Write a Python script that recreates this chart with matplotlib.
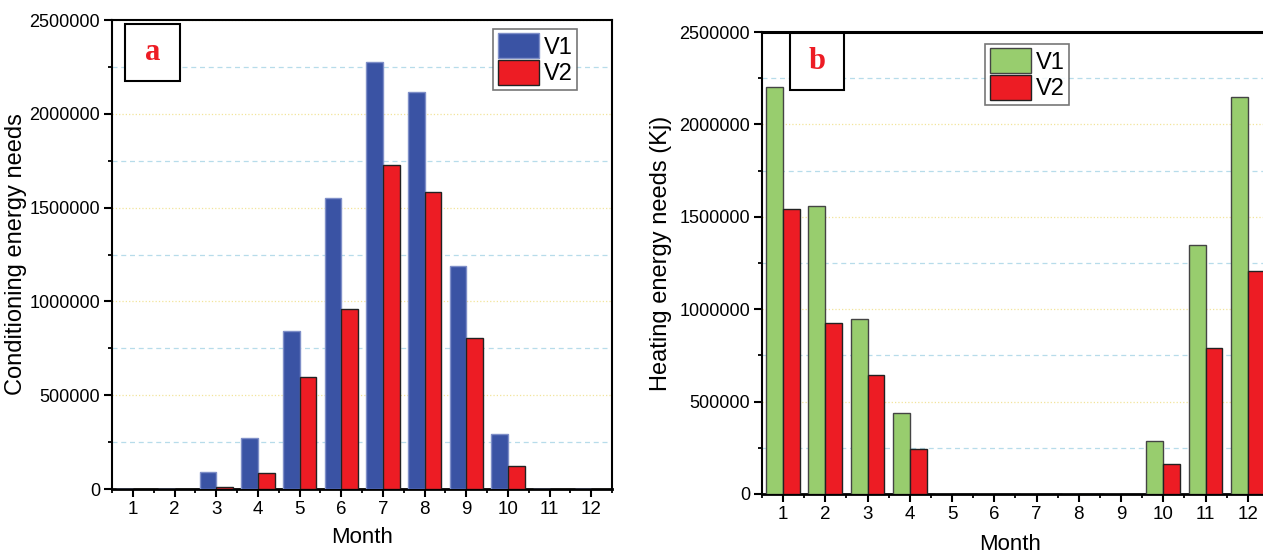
import numpy as np
import matplotlib.pyplot as plt
from matplotlib.ticker import MultipleLocator, StrMethodFormatter
from matplotlib.patches import Patch, Rectangle

plt.rcParams['font.family'] = ['Liberation Sans', 'DejaVu Sans']

months = np.arange(1, 13)
cool_v1 = [0, 0, 90000, 274000, 845000, 1553000, 2274000, 2117000, 1191000, 294000, 0, 0]
cool_v2 = [0, 0, 12000, 87000, 598000, 960000, 1727000, 1581000, 803000, 123000, 0, 0]
heat_v1 = [2201000, 1558000, 946000, 441000, 0, 0, 0, 0, 0, 289000, 1349000, 2148000]
heat_v2 = [1540000, 928000, 645000, 246000, 0, 0, 0, 0, 0, 165000, 789000, 1208000]

blue = '#3a53a4'
red = '#ed1c24'
green = '#98cd6e'

fig = plt.figure(figsize=(12.63, 5.53), dpi=100)
ax1 = fig.add_axes([0.0887, 0.1157, 0.3959, 0.848])
ax2 = fig.add_axes([0.6033, 0.1067, 0.4014, 0.8354])


def setup(ax, v1, v2, c1, e1, panel, ylabel, leg_loc, box, top_only=False):
    ax.bar(months, v1, width=-0.4, align='edge', color=c1, edgecolor=e1, linewidth=1, zorder=3)
    ax.bar(months, v2, width=0.4, align='edge', color=red, edgecolor='#222222', linewidth=1, zorder=3)
    ax.set_xlim(0.5, 12.5)
    ax.set_ylim(0, 2500000)
    ax.xaxis.set_major_locator(MultipleLocator(1))
    ax.xaxis.set_minor_locator(MultipleLocator(0.5))
    ax.yaxis.set_major_locator(MultipleLocator(500000))
    ax.yaxis.set_minor_locator(MultipleLocator(250000))
    ax.yaxis.set_major_formatter(StrMethodFormatter('{x:.0f}'))
    ax.grid(which='major', axis='y', color='#f2e49a', linestyle=':', linewidth=0.9, zorder=0)
    ax.grid(which='minor', axis='y', color='#b7dcea', linestyle=(0, (4, 3)), linewidth=0.9, zorder=0)
    ax.tick_params(axis='both', which='major', labelsize=13, width=1.5, length=6,
                   direction='out', pad=2.5)
    ax.tick_params(axis='x', which='major', labelsize=13.5)
    ax.tick_params(axis='both', which='minor', width=1.3, length=3, direction='out')
    for s in ax.spines.values():
        s.set_linewidth(1.5)
    ax.spines['bottom'].set_linewidth(2)
    if top_only:
        ax.spines['top'].set_linewidth(2.2)
        ax.spines['right'].set_visible(False)
    ax.set_xlabel('Month', fontsize=16)
    ax.set_ylabel(ylabel, fontsize=17)

    handles = [Patch(facecolor=c1, edgecolor=e1, label='V1'),
               Patch(facecolor=red, edgecolor='#222222', label='V2')]
    leg = ax.legend(handles=handles, loc='upper left', bbox_to_anchor=leg_loc, fontsize=17,
                    frameon=True, fancybox=False, handlelength=1.75, handleheight=1.25,
                    labelspacing=0.05, handletextpad=0.2, borderpad=0.2, borderaxespad=0)
    leg.get_frame().set_edgecolor('#555555')
    leg.get_frame().set_linewidth(1.2)

    x0, y0, w, h = box
    ax.add_patch(Rectangle((x0, y0), w, h, transform=ax.transAxes, facecolor='white',
                           edgecolor='black', linewidth=1.5, zorder=5))
    ax.text(x0 + w / 2, y0 + h / 2, panel, transform=ax.transAxes, fontsize=22, color=red,
            family='Liberation Serif', weight='bold', ha='center', va='center', zorder=6)


setup(ax1, cool_v1, cool_v2, blue, '#7f8fc8', 'a', 'Conditioning energy needs',
      (0.762, 0.982), (0.026, 0.870, 0.110, 0.121))
ax1.xaxis.set_label_coords(0.5, -0.082)
ax1.yaxis.set_label_coords(-0.17, 0.5)

setup(ax2, heat_v1, heat_v2, green, '#444444', 'b', 'Heating energy needs (Kj)',
      (0.44, 0.975), (0.055, 0.874, 0.107, 0.124), top_only=True)
ax2.xaxis.set_label_coords(0.489, -0.086)
ax2.yaxis.set_label_coords(-0.178, 0.52)

fig.savefig('out.png', dpi=100)
